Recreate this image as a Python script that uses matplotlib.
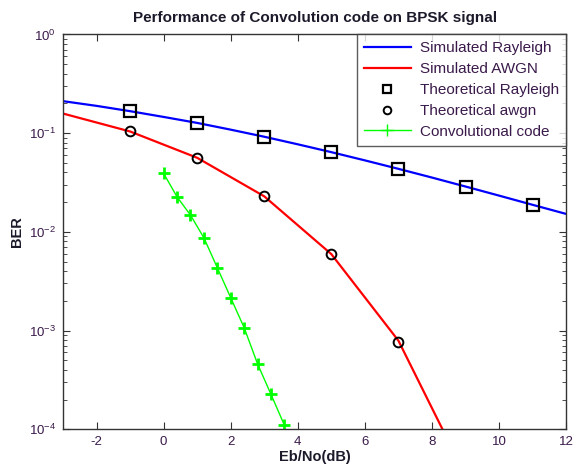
import numpy as np
import matplotlib
matplotlib.use('Agg')
import matplotlib.pyplot as plt

plt.rcParams['font.family'] = ['Liberation Sans', 'DejaVu Sans']
plt.rcParams['mathtext.fontset'] = 'custom'
plt.rcParams['mathtext.rm'] = 'Liberation Sans'
plt.rcParams['mathtext.it'] = 'Liberation Sans:italic'
plt.rcParams['mathtext.bf'] = 'Liberation Sans:bold'
plt.rcParams['axes.unicode_minus'] = False

# simulated curves
sim_ray_x = [-3, -2, -1, 0, 1, 2, 3, 4, 5, 6, 7, 8, 9, 10, 11, 12]
sim_ray_y = [0.211, 0.189, 0.167, 0.146, 0.127, 0.1085, 0.092, 0.0771, 0.0642,
             0.053, 0.0435, 0.0355, 0.0288, 0.0233, 0.0188, 0.0152]
sim_awgn_x = [-3, -1, 1, 3, 5, 7, 9]
sim_awgn_y = [0.158, 0.104, 0.0563, 0.0229, 0.00595, 0.00079, 3.4e-5]

# theoretical markers
th_x = [-1, 1, 3, 5, 7, 9, 11]
th_ray_y = [0.167, 0.127, 0.092, 0.0642, 0.0435, 0.0288, 0.0188]
th_awgn_x = [-1, 1, 3, 5, 7]
th_awgn_y = [0.104, 0.0563, 0.0229, 0.00595, 0.00077]

# convolutional code
conv_x = [0, 0.4, 0.8, 1.2, 1.6, 2.0, 2.4, 2.8, 3.2, 3.6]
conv_y = [0.0391, 0.0226, 0.0148, 0.0087, 0.00433, 0.00215, 0.00107,
          4.6e-4, 2.26e-4, 1.1e-4]

fig = plt.figure(figsize=(5.73, 4.72), dpi=100)
ax = fig.add_axes([0.110, 0.0905, 0.878, 0.8365])

ax.semilogy(sim_ray_x, sim_ray_y, color='#0000ff', lw=1.6, label='Simulated Rayleigh')
ax.semilogy(sim_awgn_x, sim_awgn_y, color='#ff0000', lw=1.6, label='Simulated AWGN')
ax.semilogy(th_x, th_ray_y, 's', ms=8, mfc='none', mec='k', mew=1.6,
            label='Theoretical Rayleigh')
ax.semilogy(th_awgn_x, th_awgn_y, 'o', ms=7, mfc='none', mec='k', mew=1.4,
            label='Theoretical awgn')
ax.semilogy(conv_x, conv_y, '-+', color='#00ff00', lw=1.0, ms=8, mew=2,
            label='Convolutional code')

ax.set_xlim(-3, 12)
ax.set_ylim(1e-4, 1)
ax.set_xticks([-2, 0, 2, 4, 6, 8, 10, 12])
ax.tick_params(which='both', direction='in', top=True, right=True,
               labelsize=9.5, color='#333333', labelcolor='#3a1a4a')
ax.tick_params(which='major', length=5, pad=5)
ax.tick_params(which='minor', length=3)
for s in ax.spines.values():
    s.set_color('#333333')
    s.set_linewidth(1.0)

ax.set_title('Performance of Convolution code on BPSK signal',
             fontsize=11, fontweight='bold', pad=9, color='#1a1a2a')
ax.set_xlabel('Eb/No(dB)', fontsize=10.5, fontweight='bold', labelpad=1,
              color='#1a1a2a')
ax.set_ylabel('BER', fontsize=10.5, fontweight='bold', color='#1a1a2a')
ax.yaxis.set_label_coords(-0.078, 0.5)

leg = ax.legend(loc='upper right', fontsize=11, frameon=True, fancybox=False,
                borderaxespad=0, handlelength=3.1, labelspacing=0.45,
                borderpad=0.45, handletextpad=0.6)
leg.get_frame().set_edgecolor('#333333')
leg.get_frame().set_linewidth(1.0)
for h in leg.legend_handles[2:4]:
    h.set_markersize(5.5)
leg.legend_handles[4].set_markeredgewidth(1.0)
for t in leg.get_texts():
    t.set_color('#3a1a4a')

fig.savefig('out.png', dpi=100)
